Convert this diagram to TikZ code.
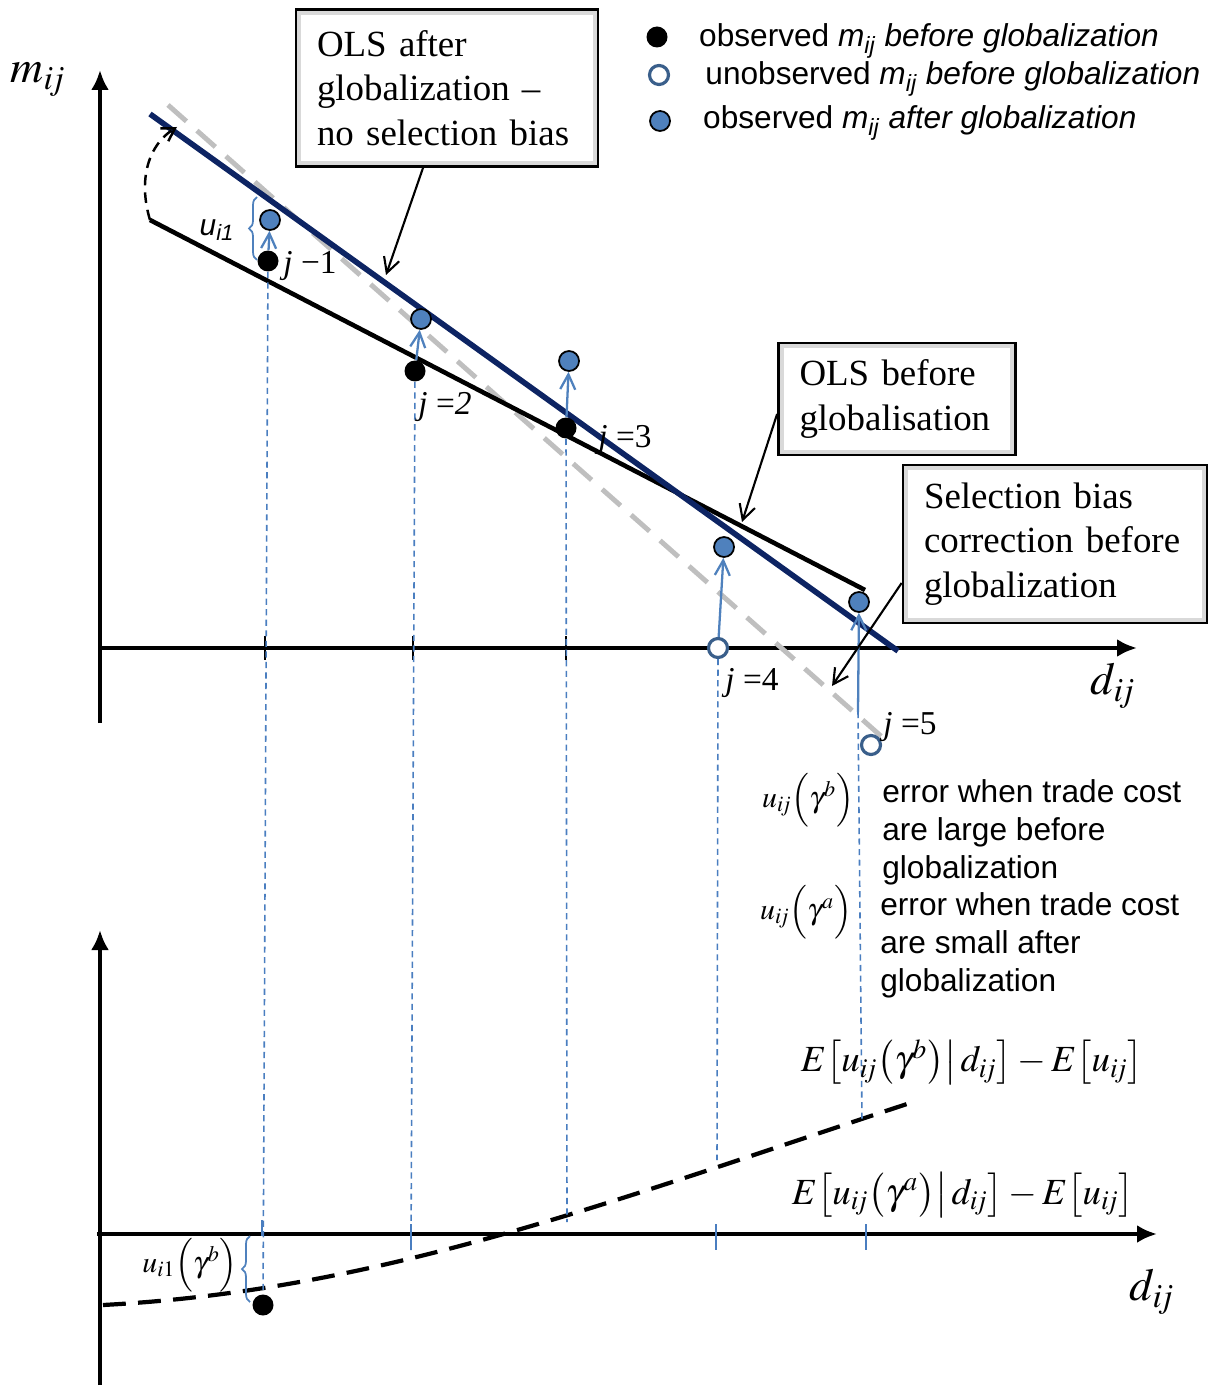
\documentclass[tikz,border=0pt]{standalone}
\usepackage{mathptmx}
\usepackage{fontspec}
\setmainfont{Liberation Serif}
\setsansfont{Liberation Sans}
\usetikzlibrary{arrows.meta,positioning,calc,decorations.pathreplacing}
\definecolor{OlsNavy}{HTML}{0D2463}
\definecolor{DotBlue}{HTML}{4F81BD}
\definecolor{RingBlue}{HTML}{3A5F8B}
\definecolor{GuideBlue}{HTML}{4A7EC0}
\definecolor{FitGray}{HTML}{BFBFBF}
\newcommand{\subij}{i\mkern-2mu j}

\begin{document}
\begin{tikzpicture}[x=0.02cm,y=-0.02cm,
  axis/.style={line width=2.8pt,-{Latex[length=4mm,width=3.6mm]}},
  note/.style={draw=black,line width=1.6pt,fill=white,align=left,
    inner xsep=0.42cm,inner ysep=0pt,font=\fontsize{21}{25.5}\selectfont,
    path picture={\draw[gray!30,line width=6pt]
      (path picture bounding box.south west) rectangle (path picture bounding box.north east);}},
  pointer/.style={-{Straight Barb[length=3mm,width=3.2mm]},line width=1.2pt},
  rise/.style={-{Straight Barb[length=3mm,width=3mm]},DotBlue,line width=1.3pt},
  guide/.style={GuideBlue,line width=0.9pt,dash pattern=on 3.5pt off 2.5pt},
  dotB/.style={circle,fill=black,inner sep=0pt,minimum size=0.42cm},
  dotA/.style={circle,fill=DotBlue,draw=black,line width=1pt,inner sep=0pt,minimum size=0.4cm},
  dotO/.style={circle,fill=white,draw=RingBlue,line width=1.8pt,inner sep=0pt,minimum size=0.38cm},
  legend/.style={font=\sffamily\fontsize{18}{21.6}\selectfont,inner sep=0pt},
  jlab/.style={font=\fontsize{19}{22}\selectfont,inner sep=1pt},
  errlab/.style={inner sep=0pt,font=\fontsize{17}{20}\selectfont},
  cbrace/.style={decorate,decoration={brace,amplitude=0.16cm},DotBlue,line width=1pt}
]
\useasboundingbox (0,0) rectangle (1219,1388);

% upper panel: axes and fitted lines
\coordinate (o0) at (100,723);
\coordinate (yT) at (100,70);
\coordinate (xo) at (100,648);
\coordinate (xT) at (1137,648);
\coordinate (olsB0) at (150,220);
\coordinate (olsB1) at (865,590);
\coordinate (olsA0) at (150,114);
\coordinate (olsA1) at (898,651);
\coordinate (fit0) at (168,105);
\coordinate (fit1) at (882,737);
\coordinate (rot) at (177,127);
\draw[axis] (o0) -- (yT);
\draw[axis] (xo) -- (xT);
\foreach \x in {265,413,566}
  \draw[line width=1.6pt] (\x,636) -- (\x,660);
\node (mlab) at (38,80) {\fontsize{26}{30}\selectfont$m_{\subij}$};
\node (dlab) at (1113,686) {\fontsize{26}{30}\selectfont$d_{\subij}$};
\draw[FitGray,line width=2.8pt,dash pattern=on 14pt off 8pt] (fit0) -- (fit1);
\draw[line width=2.6pt] (olsB0) -- (olsB1);
\draw[OlsNavy,line width=3.2pt] (olsA0) -- (olsA1);
\draw[line width=1.4pt,dash pattern=on 6pt off 4pt,-{Straight Barb[length=2.5mm,width=3mm]}]
  (olsB0) .. controls (138,180) and (148,145) .. (rot);

% observations
\node[dotB] (b1) at (268,261) {};
\node[dotA] (a1) at (270,220) {};
\node[dotB] (b2) at (415,371) {};
\node[dotA] (a2) at (421,319) {};
\node[dotB] (b3) at (566,428) {};
\node[dotA] (a3) at (569,361) {};
\node[dotO] (o4) at (718,648) {};
\node[dotA] (a4) at (724,547) {};
\node[dotO] (o5) at (871,745) {};
\node[dotA] (a5) at (859,602) {};
\coordinate (s5) at (858,712);
\draw[rise] (b1) -- (a1);
\draw[rise] (b2) -- (a2);
\draw[rise] (b3) -- (a3);
\draw[rise] (o4) -- (a4);
\draw[rise] (s5) -- (a5);
\node[jlab] (j1) at (310,266) {\textit{j} −1};
\node[jlab] (j2) at (445,407) {\textit{j} =\textit{2}};
\node[jlab] (j3) at (625,440) {\textit{j} =3};
\node[jlab] (j4) at (752,683) {\textit{j} =4};
\node[jlab] (j5) at (910,727) {\textit{j} =5};
\draw[cbrace] (257,260) -- (257,197);
\node (ui1) at (217,230) {\sffamily\itshape\fontsize{17}{20}\selectfont u\textsubscript{i1}};

% lower panel
\coordinate (p0) at (100,1385);
\coordinate (pT) at (100,930);
\coordinate (qo) at (97,1234);
\coordinate (qT) at (1157,1234);
\coordinate (e0) at (103,1305);
\coordinate (e1) at (910,1103);
\draw[axis] (p0) -- (pT);
\draw[axis] (qo) -- (qT);
\node (dlab2) at (1152,1292) {\fontsize{26}{30}\selectfont$d_{\subij}$};
\draw[line width=2.4pt,dash pattern=on 13pt off 7pt] (e0) .. controls (380,1290) and (600,1205) .. (e1);
\node[dotB] (c1) at (263,1305) {};
\foreach \x in {411,716,866}
  \draw[GuideBlue,line width=1pt] (\x,1224) -- (\x,1250);
\draw[GuideBlue,line width=1pt] (262,1220) -- (262,1236);
\draw[cbrace] (250,1302) -- (250,1236);
\node[errlab] (ub) at (190,1265) {$u_{i1}\Bigl(\gamma^{b}\Bigr)$};

% guides between panels
\coordinate (lo2) at (411,1250);
\coordinate (lo3) at (567,1222);
\coordinate (lo4) at (717,1160);
\coordinate (lo5) at (862,1122);
\draw[guide] (b1) -- (c1);
\draw[guide] (b2) -- (lo2);
\draw[guide] (b3) -- (lo3);
\draw[guide] (o4) -- (lo4);
\draw[guide] (s5) -- (lo5);

% error notes
\node[errlab] (g1) at (808,800) {$u_{\subij}\Bigl(\gamma^{b}\Bigr)$};
\node[legend,align=left,anchor=north west] (e1t) at (882,779)
  {error when trade cost\\are large before\\globalization};
\node[errlab] (g2) at (806,912) {$u_{\subij}\Bigl(\gamma^{a}\Bigr)$};
\node[legend,align=left,anchor=north west] (e2t) at (880,892)
  {error when trade cost\\are small after\\globalization};
\node[inner sep=0pt] (f1) at (972,1062) {\fontsize{21}{25}\selectfont
  $E\bigl[u_{\subij}\bigl(\gamma^{b}\bigr)\big|\,d_{\subij}\bigr]-E\bigl[u_{\subij}\bigr]$};
\node[inner sep=0pt] (f2) at (963,1195) {\fontsize{21}{25}\selectfont
  $E\bigl[u_{\subij}\bigl(\gamma^{a}\bigr)\big|\,d_{\subij}\bigr]-E\bigl[u_{\subij}\bigr]$};

% legend
\node[dotB] (l1) at (657,37) {};
\node[dotO] (l2) at (659,75) {};
\node[dotA] (l3) at (660,121) {};
\node[legend,right=0.62cm of l1,yshift=-0.08cm] (t1) {observed \textit{m\textsubscript{ij} before globalization}};
\node[legend,right=0.7cm of l2,yshift=-0.08cm] (t2) {unobserved \textit{m\textsubscript{ij}} \textit{before globalization}};
\node[legend,right=0.64cm of l3,yshift=-0.04cm] (t3) {observed \textit{m\textsubscript{ij} after globalization}};

% call-out boxes
\node[note,minimum width=6.04cm,minimum height=3.14cm,text width=5.2cm] (olsA) at (447,88)
  {OLS after\\globalization –\\no selection bias};
\node[note,minimum width=4.74cm,minimum height=2.24cm,text width=3.9cm] (olsB) at (897,399)
  {OLS before\\globalisation};
\node[note,minimum width=6.08cm,minimum height=3.16cm,text width=5.24cm] (selB) at (1055,544)
  {Selection bias\\correction before\\globalization};
\coordinate (pA) at (386,275);
\coordinate (pB) at (742,522);
\coordinate (pC) at (832,686);
\draw[pointer] ([xshift=-0.48cm]olsA.south) -- (pA);
\draw[pointer] ([yshift=-0.3cm]olsB.west) -- (pB);
\draw[pointer] ([yshift=-0.78cm]selB.west) -- (pC);
\end{tikzpicture}
\end{document}
